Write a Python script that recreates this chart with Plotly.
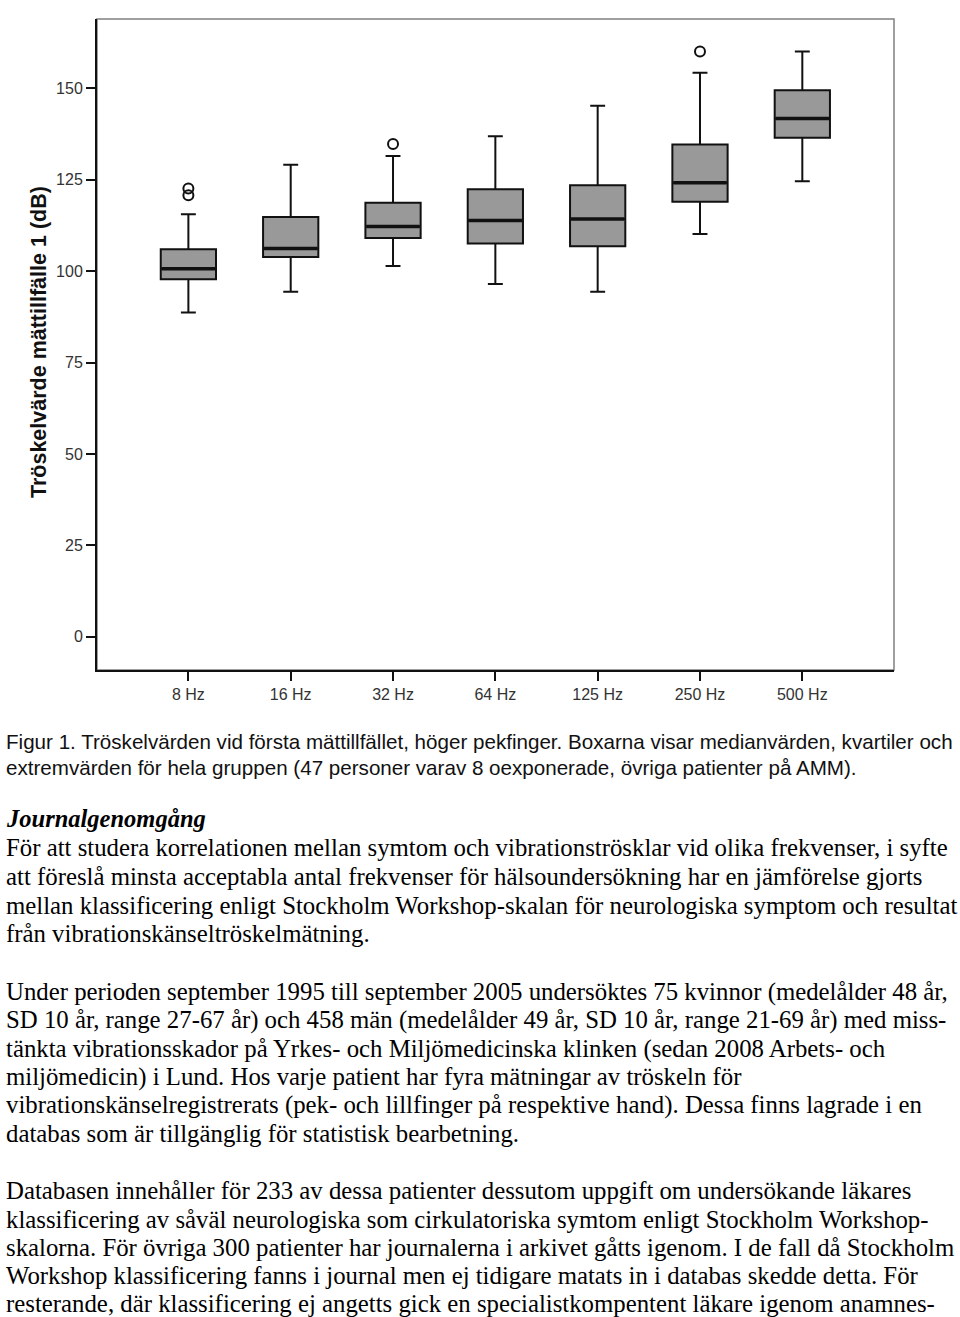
import plotly.graph_objects as go

# ---- data ----
categories = ["8 Hz", "16 Hz", "32 Hz", "64 Hz", "125 Hz", "250 Hz", "500 Hz"]
lower_whisker = [88.7, 94.4, 101.4, 96.5, 94.4, 110.2, 124.6]
q1 = [97.8, 103.9, 109.1, 107.6, 106.8, 119.0, 136.5]
medians = [100.7, 106.2, 112.2, 113.9, 114.3, 124.2, 141.8]
q3 = [106.0, 114.8, 118.7, 122.4, 123.5, 134.7, 149.5]
upper_whisker = [115.6, 129.1, 131.5, 136.9, 145.3, 154.3, 160.1]
outlier_cat = ["8 Hz", "8 Hz", "32 Hz", "250 Hz"]
outlier_val = [122.6, 120.8, 134.8, 160.1]
y_ticks = [0, 25, 50, 75, 100, 125, 150]

caption_lines = [
    "Figur 1. Tröskelvärden vid första mättillfället, höger pekfinger. Boxarna visar medianvärden, kvartiler och",
    "extremvärden för hela gruppen (47 personer varav 8 oexponerade, övriga patienter på AMM).",
]
heading = "Journalgenomgång"
para1 = [
    "För att studera korrelationen mellan symtom och vibrationströsklar vid olika frekvenser, i syfte",
    "att föreslå minsta acceptabla antal frekvenser för hälsoundersökning har en jämförelse gjorts",
    "mellan klassificering enligt Stockholm Workshop-skalan för neurologiska symptom och resultat",
    "från vibrationskänseltröskelmätning.",
]
para2 = [
    "Under perioden september 1995 till september 2005 undersöktes 75 kvinnor (medelålder 48 år,",
    "SD 10 år, range 27-67 år) och 458 män (medelålder 49 år, SD 10 år, range 21-69 år) med miss-",
    "tänkta vibrationsskador på Yrkes- och Miljömedicinska klinken (sedan 2008 Arbets- och",
    "miljömedicin) i Lund. Hos varje patient har fyra mätningar av tröskeln för",
    "vibrationskänselregistrerats (pek- och lillfinger på respektive hand). Dessa finns lagrade i en",
    "databas som är tillgänglig för statistisk bearbetning.",
]
para3 = [
    "Databasen innehåller för 233 av dessa patienter dessutom uppgift om undersökande läkares",
    "klassificering av såväl neurologiska som cirkulatoriska symtom enligt Stockholm Workshop-",
    "skalorna. För övriga 300 patienter har journalerna i arkivet gåtts igenom. I de fall då Stockholm",
    "Workshop klassificering fanns i journal men ej tidigare matats in i databas skedde detta. För",
    "resterande, där klassificering ej angetts gick en specialistkompentent läkare igenom anamnes-",
]

# ---- layout geometry ----
W, H = 960, 1317
L, R, T, B = 97, 894, 19, 670
BOXW = 0.54
xpos = list(range(len(categories)))
cat_index = {c: i for i, c in enumerate(categories)}

fig = go.Figure()
fig.add_trace(go.Box(
    x=xpos, q1=q1, median=medians, q3=q3,
    lowerfence=lower_whisker, upperfence=upper_whisker,
    width=BOXW, whiskerwidth=0.27,
    fillcolor="#999999", line=dict(color="#111111", width=2),
    boxpoints=False, hoverinfo="skip", showlegend=False,
))
# thicker median lines
mx, my = [], []
for i, m in enumerate(medians):
    mx += [i - BOXW / 2 + 0.01, i + BOXW / 2 - 0.01, None]
    my += [m, m, None]
fig.add_trace(go.Scatter(x=mx, y=my, mode="lines",
                         line=dict(color="#111111", width=3.5),
                         hoverinfo="skip", showlegend=False))
fig.add_trace(go.Scatter(
    x=[cat_index[c] for c in outlier_cat], y=outlier_val, mode="markers",
    marker=dict(symbol="circle-open", size=10, color="#111111", line=dict(width=2)),
    hoverinfo="skip", showlegend=False))

# frame (top/right grey)
fig.add_shape(type="rect", xref="paper", yref="paper", x0=0, x1=1, y0=0, y1=1,
              line=dict(color="#808080", width=1.5), layer="below")


def px_x(x):
    return (x - L) / (R - L)


def px_y(y):
    return (B - y) / (B - T)


ann = []
ann.append(dict(text="<b>Tröskelvärde mättillfälle 1 (dB)</b>", x=px_x(39), y=px_y(342),
                textangle=-90, font=dict(family="Liberation Sans, Arial", size=21.5, color="#111"),
                showarrow=False, xref="paper", yref="paper", xanchor="center", yanchor="middle"))

cap_y = [741, 767]
for t, y in zip(caption_lines, cap_y):
    ann.append(dict(text=t, x=px_x(4), y=px_y(y), xanchor="left", yanchor="middle",
                    font=dict(family="Liberation Sans, Arial", size=20.6, color="#111"),
                    showarrow=False, xref="paper", yref="paper"))
ann.append(dict(text="<b><i>" + heading + "</i></b>", x=px_x(4), y=px_y(818), xanchor="left",
                yanchor="middle", font=dict(family="Liberation Serif, Times New Roman", size=24.5, color="#000"),
                showarrow=False, xref="paper", yref="paper"))
body_y = [[847, 876, 905, 933], [992, 1020, 1049, 1077, 1105, 1133], [1190, 1219, 1247, 1275, 1303]]
for lines, ys in zip([para1, para2, para3], body_y):
    for t, y in zip(lines, ys):
        ann.append(dict(text=t, x=px_x(4), y=px_y(y), xanchor="left", yanchor="middle",
                        font=dict(family="Liberation Serif, Times New Roman", size=24.8, color="#000"),
                        showarrow=False, xref="paper", yref="paper"))

fig.update_layout(
    width=W, height=H,
    margin=dict(l=L, r=W - R, t=T, b=H - B, pad=0),
    paper_bgcolor="white", plot_bgcolor="white",
    annotations=ann,
    xaxis=dict(range=[-0.893, 6.896], tickvals=xpos, ticktext=categories,
               showgrid=False, zeroline=False, showline=True, linecolor="#111", linewidth=2,
               ticks="outside", ticklen=9, tickwidth=2, tickcolor="#111",
               tickfont=dict(family="Liberation Sans, Arial", size=16, color="#333")),
    yaxis=dict(range=[-9.1, 169], tickvals=y_ticks,
               showgrid=False, zeroline=False, showline=True, linecolor="#111", linewidth=2,
               ticks="outside", ticklen=9, tickwidth=2, tickcolor="#111",
               tickfont=dict(family="Liberation Sans, Arial", size=16, color="#333")),
)

fig.write_html("out.html", config={"displayModeBar": False},
               post_script="document.body.style.margin='0';document.body.style.overflow='hidden';")
